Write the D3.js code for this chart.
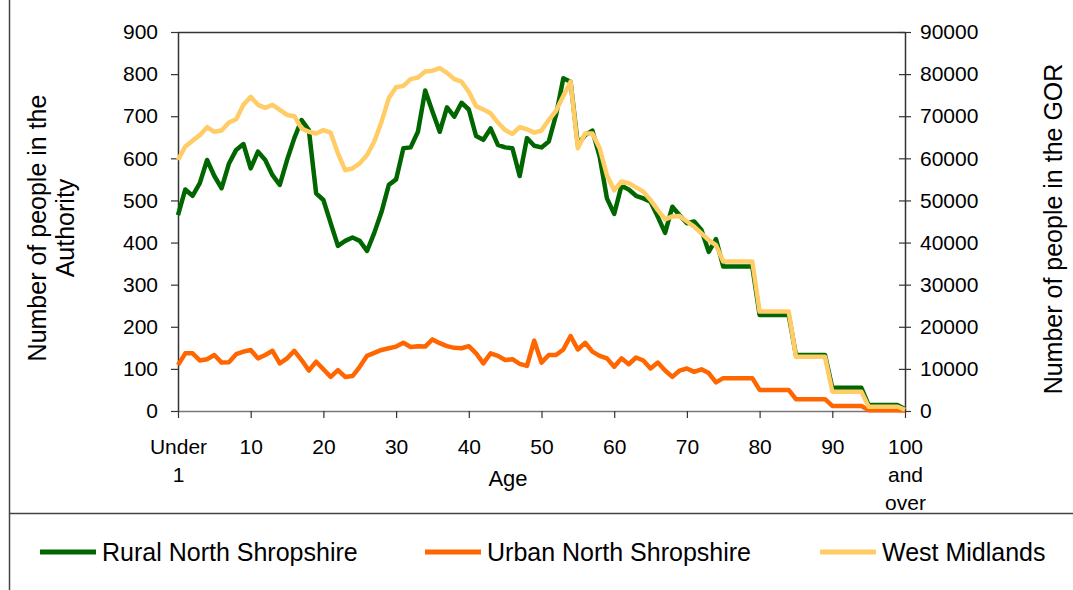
<!DOCTYPE html>
<html>
<head>
<meta charset="utf-8">
<script src="https://cdn.jsdelivr.net/npm/d3@7"></script>
<style>
  body { margin: 0; background: white; }
  text { font-family: "Liberation Sans", Arial, sans-serif; fill: black; }
</style>
</head>
<body>
<script>
// single years of age 0..100, the 5 year bands (75+) are shown as flat steps
var ages = d3.range(0, 101);

var rural = [
  465, 526, 511, 541, 596, 558, 529, 587, 620, 634,
  576, 616, 596, 560, 537, 596, 648, 691, 667, 517,
  501, 446, 392, 404, 412, 404, 380, 423, 473, 537,
  550, 624, 626, 663, 761, 711, 663, 721, 699, 732,
  716, 653, 644, 671, 632, 626, 624, 558, 648, 630,
  626, 640, 703, 790, 782, 632, 655, 666, 604, 505,
  468, 535, 526, 511, 505, 497, 461, 423, 485, 465,
  446, 450, 430, 378, 408, 343, 343, 343, 343, 343,
  228, 228, 228, 228, 228, 133, 133, 133, 133, 133,
  55, 55, 55, 55, 55, 14, 14, 14, 14, 14,
  4
];

var urban = [
  109, 137, 137, 120, 123, 133, 115, 116, 135, 141,
  145, 125, 133, 143, 113, 125, 143, 121, 96, 117,
  99, 81, 97, 81, 83, 105, 131, 138, 145, 149,
  153, 162, 152, 154, 153, 170, 161, 154, 150, 149,
  154, 137, 113, 137, 131, 121, 123, 112, 107, 167,
  115, 133, 133, 146, 178, 146, 162, 141, 131, 125,
  105, 125, 111, 127, 120, 101, 115, 96, 81, 96,
  101, 93, 99, 90, 68, 78, 78, 78, 78, 78,
  50, 50, 50, 50, 50, 28, 28, 28, 28, 28,
  12, 12, 12, 12, 12, 2, 2, 2, 2, 2,
  1
];

var westMidlands = [
  59600, 62800, 64200, 65500, 67400, 66300, 66600, 68500, 69300, 72700,
  74600, 72700, 72000, 72700, 71500, 70300, 70000, 67100, 66300, 65900,
  66700, 66100, 61200, 57200, 57600, 58800, 60800, 64000, 68700, 74300,
  76900, 77200, 78800, 79200, 80600, 80800, 81400, 80300, 78800, 78200,
  75800, 72400, 71600, 70700, 68500, 66700, 65800, 67400, 66900, 66100,
  66600, 69100, 71300, 74800, 78200, 62400, 65900, 65900, 62400, 56000,
  52400, 54500, 54100, 53100, 52100, 50100, 47700, 45500, 46200, 46300,
  45000, 43800, 42200, 40600, 39400, 35500, 35500, 35500, 35500, 35500,
  23600, 23600, 23600, 23600, 23600, 12900, 12900, 12900, 12900, 12900,
  4600, 4600, 4600, 4600, 4600, 1000, 1000, 1000, 1000, 1000,
  300
];

var xTicks = [0, 10, 20, 30, 40, 50, 60, 70, 80, 90, 100];
var xTickLabels = [["Under", "1"], ["10"], ["20"], ["30"], ["40"], ["50"], ["60"], ["70"], ["80"], ["90"], ["100", "and", "over"]];
var leftTicks = d3.range(0, 901, 100);
var rightTicks = d3.range(0, 90001, 10000);

var seriesNames = ["Rural North Shropshire", "Urban North Shropshire", "West Midlands"];
var seriesColors = ["#006600", "#ff6600", "#ffcc66"];

var width = 1073,
  height = 590;

var plot = { left: 178, right: 905, top: 32, bottom: 411 };

var svg = d3.select("body")
  .append("svg")
  .attr("width", width)
  .attr("height", height);

var x = d3.scaleLinear().domain([0, 100]).range([plot.left, plot.right]);
var yLeft = d3.scaleLinear().domain([0, 900]).range([plot.bottom, plot.top]);
var yRight = d3.scaleLinear().domain([0, 90000]).range([plot.bottom, plot.top]);

// outer frame pieces
svg.append("line")
  .attr("x1", 9.5).attr("x2", 9.5).attr("y1", 0).attr("y2", height)
  .style("stroke", "#444").style("stroke-width", 1.5);
svg.append("line")
  .attr("x1", 9.5).attr("x2", width).attr("y1", 513.5).attr("y2", 513.5)
  .style("stroke", "#444").style("stroke-width", 1.5);

// top of plot area
svg.append("line")
  .attr("x1", plot.left).attr("x2", plot.right).attr("y1", plot.top + 0.5).attr("y2", plot.top + 0.5)
  .style("stroke", "#333").style("stroke-width", 1.5);

// left axis
var leftAxis = svg.append("g")
  .attr("transform", "translate(" + plot.left + ",0)")
  .call(d3.axisLeft(yLeft).tickValues(leftTicks).tickSize(7).tickPadding(13).tickSizeOuter(0));

// right axis
var rightAxis = svg.append("g")
  .attr("transform", "translate(" + plot.right + ",0)")
  .call(d3.axisRight(yRight).tickValues(rightTicks).tickSize(6).tickPadding(9).tickSizeOuter(0).tickFormat(d3.format("d")));
rightAxis.selectAll(".tick line").attr("x1", -6);

// bottom axis, labels added by hand for the multi line ones
var bottomAxis = svg.append("g")
  .attr("transform", "translate(0," + plot.bottom + ")")
  .call(d3.axisBottom(x).tickValues(xTicks).tickSize(7).tickSizeOuter(0).tickFormat(""));

[leftAxis, rightAxis, bottomAxis].forEach(function (g) {
  g.select(".domain").style("stroke", "#333").style("stroke-width", 1.5);
  g.selectAll(".tick line").style("stroke", "#333").style("stroke-width", 1.2);
  g.selectAll(".tick text").style("font-size", "21px").style("font-family", "Liberation Sans, Arial, sans-serif").attr("fill", "black");
});
bottomAxis.select(".domain").style("stroke", "#777");

bottomAxis.selectAll(".tick").each(function (d, i) {
  var t = d3.select(this).append("text")
    .attr("text-anchor", "middle")
    .attr("y", 0)
    .style("font-size", "21px");
  xTickLabels[i].forEach(function (s, j) {
    t.append("tspan").attr("x", 0).attr("y", 43 + j * 28).text(s);
  });
});

// axis titles
svg.append("text")
  .attr("x", 508).attr("y", 486)
  .attr("text-anchor", "middle")
  .style("font-size", "22px")
  .text("Age");

var leftTitle = svg.append("text")
  .attr("transform", "translate(46,228) rotate(-90)")
  .attr("text-anchor", "middle")
  .style("font-size", "25px");
leftTitle.append("tspan").attr("x", 0).attr("y", 0).text("Number of people in the");
leftTitle.append("tspan").attr("x", 0).attr("y", 28).text("Authority");

svg.append("text")
  .attr("transform", "translate(1062,229) rotate(-90)")
  .attr("text-anchor", "middle")
  .style("font-size", "25px")
  .text("Number of people in the GOR");

// lines
var lineLeft = d3.line()
  .x(function (d, i) { return x(ages[i]); })
  .y(function (d) { return yLeft(d); });
var lineRight = d3.line()
  .x(function (d, i) { return x(ages[i]); })
  .y(function (d) { return yRight(d); });

var seriesPaths = [lineLeft(rural), lineLeft(urban), lineRight(westMidlands)];

svg.selectAll(".series")
  .data(seriesPaths)
  .enter()
  .append("path")
  .attr("class", "series")
  .attr("d", function (d) { return d; })
  .style("fill", "none")
  .style("stroke", function (d, i) { return seriesColors[i]; })
  .style("stroke-width", 4.5)
  .style("stroke-linejoin", "round");

// legend
var legendX = [40, 425, 820];
var legend = svg.selectAll(".legend-item")
  .data(seriesNames)
  .enter()
  .append("g")
  .attr("class", "legend-item")
  .attr("transform", function (d, i) { return "translate(" + legendX[i] + ",552)"; });

legend.append("line")
  .attr("x1", 0).attr("x2", 56).attr("y1", 0).attr("y2", 0)
  .style("stroke", function (d, i) { return seriesColors[i]; })
  .style("stroke-width", 5);

legend.append("text")
  .attr("x", 62).attr("y", 9)
  .style("font-size", "25px")
  .text(function (d) { return d; });
</script>
</body>
</html>
